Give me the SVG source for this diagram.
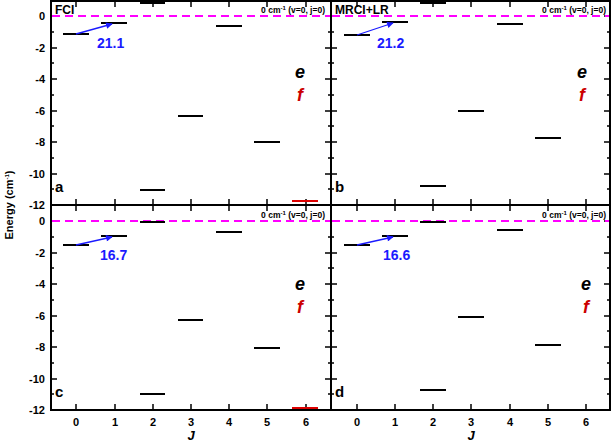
<svg xmlns="http://www.w3.org/2000/svg" width="612" height="442" viewBox="0 0 612 442">
<style>
text{font-family:"Liberation Sans",Arial,sans-serif;font-weight:bold;font-size:11px;fill:#000}
.fr{fill:none;stroke:#000;stroke-width:2}
.tk{stroke:#000;stroke-width:1.5}
.lv{stroke:#000;stroke-width:2}
.red{stroke:#d00;stroke-width:2}
.ref{stroke:#f0f;stroke-width:2;stroke-dasharray:8,5}
.ar{stroke:#1a1aff;stroke-width:1.3;fill:none}
text.bl{fill:#1a1aff;font-size:14px}
text.sm{font-size:8.5px}
text.big{font-size:18px;font-style:italic}
text.rf{fill:#c00}
text.pl{font-size:15px}
text.tt{font-size:12px}
text.jj{font-size:13px;font-style:italic}
tspan.sup{font-size:6px}
</style>
<defs>
<marker id="ah" viewBox="0 0 10 10" refX="9" refY="5" markerWidth="7" markerHeight="5" orient="auto"><path d="M0,0L10,5L0,10z" fill="#1a1aff"/></marker>
<g id="yt">
<path class="tk" d="M0,16h6M0,48h6M0,79h6M0,111h6M0,142h6M0,174h6M0,205h6M0,32h3M0,63h3M0,95h3M0,126h3M0,158h3M0,189h3"/>
</g>
</defs>
<g id="frames">
<rect class="fr" x="51" y="1" width="559" height="409"/>
<line class="fr" x1="331" y1="1" x2="331" y2="410"/>
<line class="fr" x1="51" y1="205" x2="610" y2="205"/>
</g>
<g id="ticks">
<use href="#yt" x="51" y="0"/><use href="#yt" x="51" y="205"/>
<use href="#yt" x="331" y="0"/><use href="#yt" x="331" y="205"/>
<use href="#yt" transform="translate(331,0) scale(-1,1)"/><use href="#yt" transform="translate(331,205) scale(-1,1)"/>
<use href="#yt" transform="translate(610,0) scale(-1,1)"/><use href="#yt" transform="translate(610,205) scale(-1,1)"/>
<path class="tk" d="M76,205v-6M115,205v-6M153,205v-6M191,205v-6M229,205v-6M267,205v-6M306,205v-6M76,205v6M115,205v6M153,205v6M191,205v6M229,205v6M267,205v6M306,205v6M76,410v-6M115,410v-6M153,410v-6M191,410v-6M229,410v-6M267,410v-6M306,410v-6M76,1v6M115,1v6M153,1v6M191,1v6M229,1v6M267,1v6M306,1v6"/>
<path class="tk" d="M357,205v-6M395,205v-6M433,205v-6M471,205v-6M510,205v-6M548,205v-6M586,205v-6M357,205v6M395,205v6M433,205v6M471,205v6M510,205v6M548,205v6M586,205v6M357,410v-6M395,410v-6M433,410v-6M471,410v-6M510,410v-6M548,410v-6M586,410v-6M357,1v6M395,1v6M433,1v6M471,1v6M510,1v6M548,1v6M586,1v6"/>
</g>
<g id="ylabels" text-anchor="end">
<text x="45" y="20">0</text><text x="45" y="52">-2</text><text x="45" y="83">-4</text><text x="45" y="115">-6</text><text x="45" y="146">-8</text><text x="45" y="178">-10</text><text x="45" y="209">-12</text>
<text x="45" y="225">0</text><text x="45" y="257">-2</text><text x="45" y="288">-4</text><text x="45" y="320">-6</text><text x="45" y="351">-8</text><text x="45" y="383">-10</text><text x="45" y="414">-12</text>
</g>
<g id="xlabels" text-anchor="middle">
<text x="76" y="426">0</text><text x="115" y="426">1</text><text x="153" y="426">2</text><text x="191" y="426">3</text><text x="229" y="426">4</text><text x="267" y="426">5</text><text x="306" y="426">6</text>
<text x="357" y="426">0</text><text x="395" y="426">1</text><text x="433" y="426">2</text><text x="471" y="426">3</text><text x="510" y="426">4</text><text x="548" y="426">5</text><text x="586" y="426">6</text>
<text class="jj" x="191" y="440">J</text><text class="jj" x="471" y="440">J</text>
</g>
<text transform="translate(13,205) rotate(-90)" text-anchor="middle">Energy (cm<tspan class="sup" dy="-4">-1</tspan><tspan dy="4">)</tspan></text>
<g id="refs">
<line class="ref" x1="52" y1="16" x2="330" y2="16"/><line class="ref" x1="332" y1="16" x2="609" y2="16"/>
<line class="ref" x1="52" y1="221" x2="330" y2="221"/><line class="ref" x1="332" y1="221" x2="609" y2="221"/>
<text class="sm" x="325" y="13" text-anchor="end">0 cm<tspan class="sup" dy="-3">-1</tspan><tspan dy="3"> (v=0, j=0)</tspan></text>
<text class="sm" x="606" y="13" text-anchor="end">0 cm<tspan class="sup" dy="-3">-1</tspan><tspan dy="3"> (v=0, j=0)</tspan></text>
<text class="sm" x="325" y="218" text-anchor="end">0 cm<tspan class="sup" dy="-3">-1</tspan><tspan dy="3"> (v=0, j=0)</tspan></text>
<text class="sm" x="606" y="218" text-anchor="end">0 cm<tspan class="sup" dy="-3">-1</tspan><tspan dy="3"> (v=0, j=0)</tspan></text>
</g>
<g id="panel-a">
<text class="tt" x="55" y="14">FCI</text><text class="pl" x="55" y="192">a</text>
<path class="lv" d="M63,34h26M101,23h26M140,3h25M140,190h25M178,116h25M216,26h26M254,142h26"/>
<path class="red" d="M292,201h26"/>
<path class="ar" d="M76,34L112,24" marker-end="url(#ah)"/><text class="bl" x="97" y="48">21.1</text>
<text class="big" x="300" y="78" text-anchor="middle">e</text><text class="big rf" x="300" y="101" text-anchor="middle">f</text>
</g>
<g id="panel-b">
<text class="tt" x="335" y="14">MRCI+LR</text><text class="pl" x="335" y="192">b</text>
<path class="lv" d="M344,35h26M382,22h26M420,3h26M420,186h26M458,111h26M497,24h26M535,138h26"/>
<path class="ar" d="M357,35L393,23" marker-end="url(#ah)"/><text class="bl" x="377" y="48">21.2</text>
<text class="big" x="582" y="78" text-anchor="middle">e</text><text class="big rf" x="582" y="101" text-anchor="middle">f</text>
</g>
<g id="panel-c">
<text class="pl" x="55" y="397">c</text>
<path class="lv" d="M63,245h26M101,236h26M140,222h25M140,394h25M178,320h25M216,232h26M254,348h26"/>
<path class="red" d="M292,408h26"/>
<path class="ar" d="M76,245L112,237" marker-end="url(#ah)"/><text class="bl" x="100" y="260">16.7</text>
<text class="big" x="300" y="290" text-anchor="middle">e</text><text class="big rf" x="300" y="313" text-anchor="middle">f</text>
</g>
<g id="panel-d">
<text class="pl" x="335" y="397">d</text>
<path class="lv" d="M344,245h26M382,236h26M420,222h26M420,390h26M458,317h26M497,230h26M535,345h26"/>
<path class="ar" d="M357,245L393,237" marker-end="url(#ah)"/><text class="bl" x="383" y="260">16.6</text>
<text class="big" x="586" y="290" text-anchor="middle">e</text><text class="big rf" x="586" y="313" text-anchor="middle">f</text>
</g>
</svg>
